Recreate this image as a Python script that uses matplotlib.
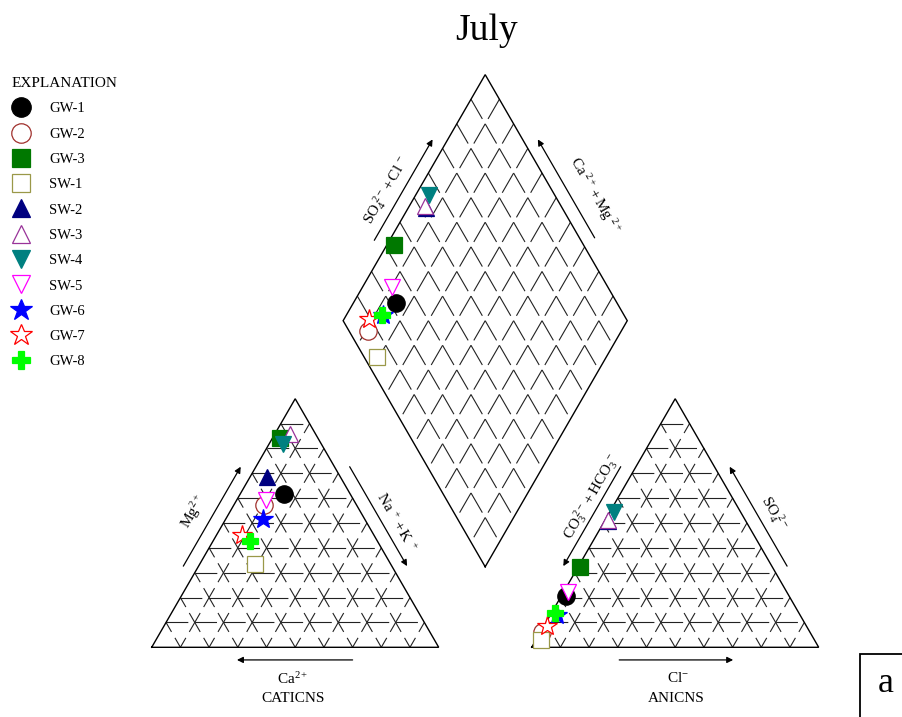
import numpy as np
import matplotlib
matplotlib.use("Agg")
import matplotlib.pyplot as plt
from matplotlib.lines import Line2D
from matplotlib.patches import Rectangle

plt.rcParams['font.family'] = ['Liberation Serif', 'DejaVu Serif']
plt.rcParams['mathtext.fontset'] = 'custom'
plt.rcParams['mathtext.rm'] = 'Liberation Serif'
plt.rcParams['mathtext.it'] = 'Liberation Serif:italic'
plt.rcParams['mathtext.bf'] = 'Liberation Serif:bold'
plt.rcParams['lines.scale_dashes'] = False

# ---- sample data (meq %) ----
samples = ["GW-1", "GW-2", "GW-3", "SW-1", "SW-2", "SW-3",
           "SW-4", "SW-5", "GW-6", "GW-7", "GW-8"]
ca_pct  = [23.1, 32.0, 13.2, 47.1, 25.5,  8.8, 13.5, 30.5, 35.3, 46.0, 44.4]
mg_pct  = [61.8, 57.4, 84.4, 33.5, 68.5, 85.7, 81.7, 59.1, 51.8, 45.0, 42.9]
nak_pct = [15.1, 10.6,  2.4, 19.4,  6.0,  5.5,  4.8, 10.4, 12.9,  9.0, 12.7]
hco3_pct = [77.7, 93.4, 66.8, 95.4, 48.0, 47.9, 44.1, 76.1, 84.6, 90.5, 85.1]
so4_pct  = [20.7,  6.2, 32.4,  2.9, 51.0, 51.1, 54.5, 22.3, 13.0,  8.5, 13.7]
cl_pct   = [ 1.6,  0.4,  0.8,  1.7,  1.0,  1.0,  1.4,  1.6,  2.4,  1.0,  1.2]

# marker, face colour, edge colour
styles = {
    "GW-1": ("o", "black", "black"),
    "GW-2": ("o", "white", "#a0302c"),
    "GW-3": ("s", "#007800", "#007800"),
    "SW-1": ("s", "white", "#9a9848"),
    "SW-2": ("^", "#000080", "#000080"),
    "SW-3": ("^", "white", "#993399"),
    "SW-4": ("v", "#008080", "#008080"),
    "SW-5": ("v", "white", "#ff00ff"),
    "GW-6": ("*", "#0000ff", "#0000ff"),
    "GW-7": ("*", "white", "#ff0000"),
    "GW-8": ("P", "#00ff00", "#00ff00"),
}
sizes = {"o": 12.5, "s": 12, "^": 12, "v": 12, "*": 15, "P": 12}

# ---- geometry ----
H = np.sqrt(3) / 2
GAP = 0.324          # space between the two triangles
OX = 1 + GAP         # left corner of the anion triangle
D = 0.99             # diamond side
B = np.array([1 + GAP / 2, GAP / 2 * np.sqrt(3)])   # bottom corner of diamond
DL = D * np.array([-0.5, H])
DR = D * np.array([0.5, H])

PX = 287.0
fig = plt.figure(figsize=(9.02, 7.17), dpi=100)
ax = fig.add_axes([0, 0, 1, 1])
x0 = -151.7 / PX
y0 = -(717 - 647.3) / PX
ax.set_xlim(x0, x0 + 902 / PX)
ax.set_ylim(y0, y0 + 717 / PX)
ax.axis("off")


def cation_xy(ca, mg, nak):
    t = ca + mg + nak
    return np.array([nak / t + 0.5 * mg / t, H * mg / t])


def anion_xy(hco3, so4, cl):
    t = hco3 + so4 + cl
    return np.array([OX + cl / t + 0.5 * so4 / t, H * so4 / t])


def diamond_xy(ca, mg, nak, hco3, so4, cl):
    a = (ca + mg) / (ca + mg + nak)
    b = (so4 + cl) / (hco3 + so4 + cl)
    return B + a * DL + b * DR


def grid_line(p, q, cell, centred, frac_on=0.76):
    # broken grid line: one dash per cell
    c_pt = cell * PX * 0.72
    on, off = frac_on * c_pt, (1 - frac_on) * c_pt
    start = on / 2 if centred else 0.0
    ax.add_line(Line2D([p[0], q[0]], [p[1], q[1]], color="#222222", lw=0.8,
                       linestyle=(start, (on, off)), zorder=1))


def outline(pts):
    pts = list(pts) + [pts[0]]
    ax.plot([p[0] for p in pts], [p[1] for p in pts], color="black",
            lw=1.0, solid_joinstyle="miter", zorder=2)


def triangle(ox):
    bl = np.array([ox, 0.0]); br = np.array([ox + 1, 0.0]); ap = np.array([ox + 0.5, H])
    for i in range(1, 10):
        f = i / 10
        grid_line(bl + f * (ap - bl), br + f * (ap - br), 0.1, False)
        grid_line(bl + f * (br - bl), ap + f * (br - ap), 0.1, True)
        grid_line(br + f * (bl - br), ap + f * (bl - ap), 0.1, True)
    outline([bl, br, ap])
    return bl, br, ap


cbl, cbr, cap = triangle(0.0)
abl, abr, aap = triangle(OX)

L = B + DL; R = B + DR; T = B + DL + DR
for i in range(1, 10):
    f = i / 10
    grid_line(B + f * DL + DR, B + f * DL, 0.1 * D, False, 0.8)
    grid_line(B + f * DR + DL, B + f * DR, 0.1 * D, False, 0.8)
outline([B, R, T, L])


def edge_point(p, q, frac, off, outward):
    d = (q - p) / np.linalg.norm(q - p)
    n = np.array([-d[1], d[0]]) * outward
    return p + (q - p) * frac + n * off


ARROW = dict(arrowstyle="-|>", lw=0.9, color="black",
             mutation_scale=9, shrinkA=0, shrinkB=0)


def arrow(p, q, f0, f1, side):
    s = edge_point(p, q, f0, 0.046, side)
    e = edge_point(p, q, f1, 0.046, side)
    ax.annotate("", xy=e, xytext=s, arrowprops=ARROW)


def edge_label(p, q, frac, off, side, text, rot):
    pos = edge_point(p, q, frac, off, side)
    ax.text(pos[0], pos[1], text, rotation=rot, ha="center", va="center",
            rotation_mode="anchor", fontsize=11)


# cation triangle labels
arrow(cbl, cap, 0.3, 0.7, 1)
edge_label(cbl, cap, 0.48, 0.11, 1, r"$\mathrm{Mg^{2+}}$", 60)
arrow(cap, cbr, 0.3, 0.7, 1)
edge_label(cap, cbr, 0.55, 0.09, 1, r"$\mathrm{Na^{\ +}+K^{\ +}}$", -60)
ax.annotate("", xy=(0.297, -0.044), xytext=(0.70, -0.044), arrowprops=ARROW)
ax.text(0.49, -0.112, r"$\mathrm{Ca^{2+}}$", ha="center", va="center", fontsize=11)
ax.text(0.492, -0.178, "CATICNS", ha="center", va="center", fontsize=11)

# anion triangle labels
arrow(abl, aap, 0.7, 0.3, 1)
edge_label(abl, aap, 0.56, 0.082, 1, r"$\mathrm{CO_3^{\ 2-}+HCO_3^{\ -}}$", 60)
arrow(aap, abr, 0.7, 0.3, 1)
edge_label(aap, abr, 0.515, 0.10, 1, r"$\mathrm{SO_4^{\ 2-}}$", -60)
ax.annotate("", xy=(OX + 0.702, -0.044), xytext=(OX + 0.305, -0.044), arrowprops=ARROW)
ax.text(OX + 0.511, -0.108, r"$\mathrm{Cl^{-}}$", ha="center", va="center", fontsize=11)
ax.text(OX + 0.503, -0.18, "ANICNS", ha="center", va="center", fontsize=11)

# diamond labels
arrow(L, T, 0.3, 0.71, 1)
edge_label(L, T, 0.475, 0.096, 1, r"$\mathrm{SO_4^{\ 2-}+Cl^{\ -}}$", 60)
arrow(R, T, 0.31, 0.71, -1)
edge_label(R, T, 0.44, 0.12, -1, r"$\mathrm{Ca^{\ 2+}+Mg^{\ 2+}}$", -60)

# ---- samples ----
for i, name in enumerate(samples):
    mk, fc, ec = styles[name]
    pts = [cation_xy(ca_pct[i], mg_pct[i], nak_pct[i]),
           anion_xy(hco3_pct[i], so4_pct[i], cl_pct[i]),
           diamond_xy(ca_pct[i], mg_pct[i], nak_pct[i],
                      hco3_pct[i], so4_pct[i], cl_pct[i])]
    ax.plot([p[0] for p in pts], [p[1] for p in pts], ls="none", marker=mk,
            markersize=sizes[mk], markerfacecolor=fc, markeredgecolor=ec,
            markeredgewidth=0.9, zorder=5 + i)

# ---- legend ----
handles = []
for name in samples:
    mk, fc, ec = styles[name]
    handles.append(Line2D([], [], ls="none", marker=mk, markersize=sizes[mk] + 1.5,
                          markerfacecolor=fc, markeredgecolor=ec, markeredgewidth=0.9))
leg = fig.legend(handles, samples, loc="upper left",
                 bbox_to_anchor=(12 / 902, 1 - 77 / 717), frameon=False,
                 title="EXPLANATION", alignment="left", fontsize=10.5,
                 title_fontsize=11, handlelength=1.3, handletextpad=1.25,
                 labelspacing=0.83, borderpad=0, borderaxespad=0)

fig.text(487 / 902, 1 - 31 / 717, "July", ha="center", va="center", fontsize=27)

fig.patches.append(Rectangle((860 / 902, -0.05), 0.2, (1 - 654 / 717) + 0.05,
                             transform=fig.transFigure, fill=False,
                             edgecolor="black", lw=1.3))
fig.text(886 / 902, 1 - 684 / 717, "a", ha="center", va="center", fontsize=26)

fig.savefig("out.png", dpi=100)
